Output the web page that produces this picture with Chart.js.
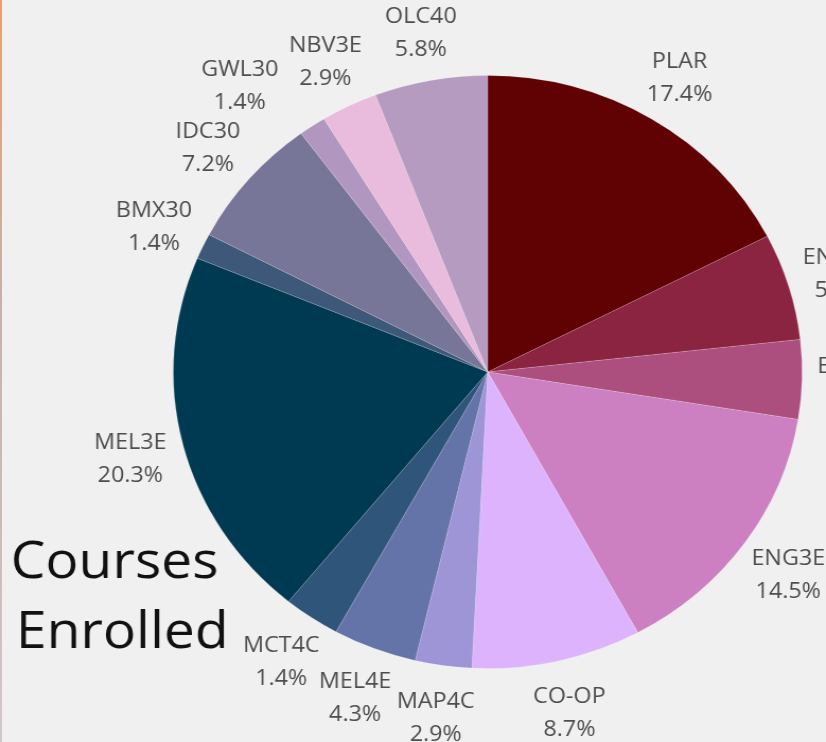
<!DOCTYPE html>
<html>
<head>
<meta charset="utf-8">
<script src="https://cdn.jsdelivr.net/npm/chart.js@4.4.1/dist/chart.umd.min.js"></script>
<style>
  html, body { margin: 0; padding: 0; background: #f0f0f0; overflow: hidden; }
  #wrap {
    position: absolute; left: 0; top: 0;
    width: 779px; height: 742px;
    transform: scaleX(1.0603); transform-origin: 0 0;
  }
  #edge {
    position: absolute; left: 0; top: 0; width: 2px; height: 742px;
    background: linear-gradient(#e8a070, #c8b0a8 40%, #d0c8c8);
  }
</style>
</head>
<body>
<div id="wrap"><canvas id="pie" width="779" height="742"></canvas></div>
<div id="edge"></div>
<script>
"use strict";

// ─── Data ──────────────────────────────────────────────────────────────────
const COURSES = [
  "PLAR", "ENG4C", "ENG2D", "ENG3E", "CO-OP", "MAP4C", "MEL4E",
  "MCT4C", "MEL3E", "BMX30", "IDC30", "GWL30", "NBV3E", "OLC40",
];
// slice sizes as drawn (MCT4C wedge is visibly ~2.9% wide)
const SLICE_VALUES = [17.4, 5.8, 4.3, 14.5, 8.7, 2.9, 4.3, 2.9, 20.3, 1.4, 7.2, 1.4, 2.9, 5.8];
// percentages as printed beside each slice
const LABEL_PCTS   = ["17.4%", "5.8%", "4.3%", "14.5%", "8.7%", "2.9%", "4.3%",
                      "1.4%", "20.3%", "1.4%", "7.2%", "1.4%", "2.9%", "5.8%"];
const COLOURS = [
  "#600203", "#8b2440", "#ad4f7e", "#cd80c1", "#dcb3fc", "#9d95d6", "#6474a8",
  "#30557a", "#003a52", "#3d5878", "#787698", "#b197bf", "#e9bbdc", "#b59bc0",
];
const TITLE_LINES = ["Courses", "Enrolled"];

// label nudges (px) to keep crowded labels apart
const LABEL_NUDGE_X = { GWL30: -40 };

// ─── Outer labels + title plugin ───────────────────────────────────────────
const outerLabels = {
  id: "outerLabels",
  afterDraw(chart) {
    const ctx  = chart.ctx;
    const meta = chart.getDatasetMeta(0);
    ctx.save();
    ctx.fillStyle    = "#4d4d4d";
    ctx.font         = "22px 'Open Sans', sans-serif";
    ctx.textAlign    = "center";
    ctx.textBaseline = "middle";
    meta.data.forEach((arc, i) => {
      const mid = (arc.startAngle + arc.endAngle) / 2;
      const r   = arc.outerRadius + 51;
      const x   = arc.x + Math.cos(mid) * r + (LABEL_NUDGE_X[COURSES[i]] || 0);
      const y   = arc.y + Math.sin(mid) * r;
      ctx.fillText(COURSES[i], x, y - 14);
      ctx.fillText(LABEL_PCTS[i], x, y + 19);
    });

    // big title, bottom-left
    ctx.fillStyle    = "#111";
    ctx.font         = "52px 'Open Sans', sans-serif";
    ctx.textAlign    = "left";
    ctx.textBaseline = "alphabetic";
    ctx.fillText(TITLE_LINES[0], 10, 578);
    ctx.fillText(TITLE_LINES[1], 15, 648);
    ctx.restore();
  },
};

new Chart(document.getElementById("pie"), {
  type: "pie",
  data: {
    labels: COURSES,
    datasets: [{
      data:            SLICE_VALUES,
      backgroundColor: COLOURS,
      borderColor:     "rgba(255,255,255,0.15)",
      borderWidth:     1,
    }],
  },
  options: {
    responsive: false,
    animation:  false,
    layout: { padding: { top: 75, bottom: 73, left: 163, right: 22 } },
    plugins: {
      legend:  { display: false },
      tooltip: { enabled: false },
    },
  },
  plugins: [outerLabels],
});
</script>
</body>
</html>
